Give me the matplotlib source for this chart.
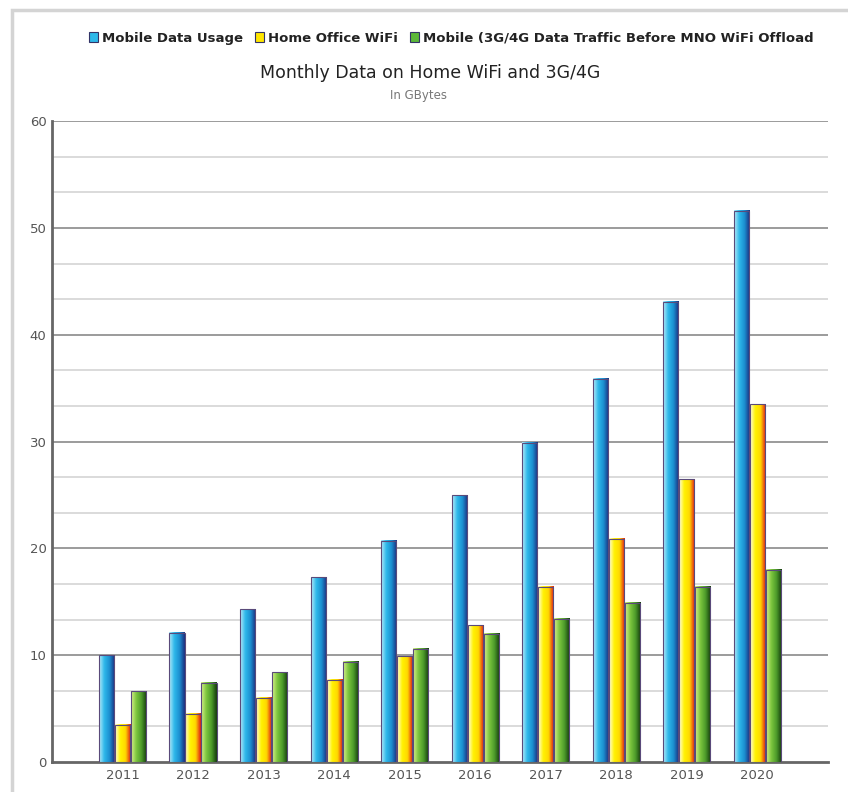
import numpy as np
import matplotlib.pyplot as plt
from matplotlib.colors import LinearSegmentedColormap
from matplotlib.patches import Rectangle, Patch

years = ["2011", "2012", "2013", "2014", "2015", "2016", "2017", "2018", "2019", "2020"]
mobile_usage = [10.0, 12.1, 14.3, 17.3, 20.7, 25.0, 29.9, 35.9, 43.1, 51.6]
home_wifi = [3.5, 4.5, 6.0, 7.7, 9.9, 12.8, 16.4, 20.9, 26.5, 33.5]
mobile_before = [6.6, 7.4, 8.4, 9.4, 10.6, 12.0, 13.4, 14.9, 16.4, 18.0]

series = [
    ("Mobile Data Usage", mobile_usage, ["#b8ecfa", "#2db8ea", "#1c8fd0", "#1a2f80"], "#2db8ea"),
    ("Home Office WiFi", home_wifi, ["#fffde0", "#fff200", "#ffd800", "#e01818"], "#ffe600"),
    ("Mobile (3G/4G Data Traffic Before MNO WiFi Offload", mobile_before,
     ["#d8f08a", "#7cc63e", "#4c9a2a", "#143a0c"], "#5cb83a"),
]

fig = plt.figure(figsize=(8.48, 7.92), dpi=100)
ax = fig.add_axes([0.0613, 0.038, 0.915, 0.809])

# light frame around the chart
fig.patches.append(Rectangle((0.014, -0.05), 1.2, 1.037, transform=fig.transFigure,
                             fill=False, edgecolor="#d4d4d4", lw=2.5, zorder=0))

x = np.arange(len(years))
w = 0.215
gap = 0.012
grad = np.linspace(0, 1, 64).reshape(1, -1)

for i, (name, vals, cols, _) in enumerate(series):
    cmap = LinearSegmentedColormap.from_list(name, cols)
    offset = (i - 1) * (w + gap)
    for xi, v in zip(x, vals):
        x0 = xi + offset - w / 2
        ax.imshow(grad, cmap=cmap, extent=[x0, x0 + w, 0, v], aspect="auto",
                  interpolation="bicubic", zorder=3)
        ax.add_patch(Rectangle((x0, 0), w, v, fill=False, edgecolor="#5a4a7a",
                               lw=0.8, zorder=4))

ax.set_xlim(-1, 10)
ax.set_ylim(0, 60)

# grid: major every 10, minor in between
for y in np.arange(10, 61, 10):
    ax.axhline(y, color="#8a8a8a", lw=1.2, zorder=1)
for y in np.arange(0, 60, 10):
    for f in (10 / 3, 20 / 3):
        ax.axhline(y + f, color="#d4d4d4", lw=1.2, zorder=1)

ax.set_yticks(np.arange(0, 61, 10))
ax.set_xticks(x)
ax.set_xticklabels(years)
ax.tick_params(axis="both", length=0, labelsize=9.5, labelcolor="#555555")
ax.tick_params(axis="y", pad=4)
ax.tick_params(axis="x", pad=5)

for s in ("top", "right"):
    ax.spines[s].set_visible(False)
ax.spines["left"].set_color("#666666")
ax.spines["left"].set_linewidth(2)
ax.spines["bottom"].set_color("#666666")
ax.spines["bottom"].set_linewidth(2)

handles = [Patch(facecolor=c, edgecolor="#333366", lw=0.8) for _, _, _, c in series]
leg = fig.legend(handles, [s[0] for s in series], loc="center", ncol=3,
                 bbox_to_anchor=(0.532, 0.952), frameon=False, handlelength=0.7,
                 handleheight=0.9, handletextpad=0.3, columnspacing=0.9,
                 prop={"weight": "bold", "size": 9.5})
for t in leg.get_texts():
    t.set_color("#222222")

fig.text(0.507, 0.908, "Monthly Data on Home WiFi and 3G/4G", ha="center", va="center",
         fontsize=12.5, color="#222222")
fig.text(0.493, 0.879, "In GBytes", ha="center", va="center", fontsize=8.5, color="#777777")

fig.savefig("out.png", dpi=100)
